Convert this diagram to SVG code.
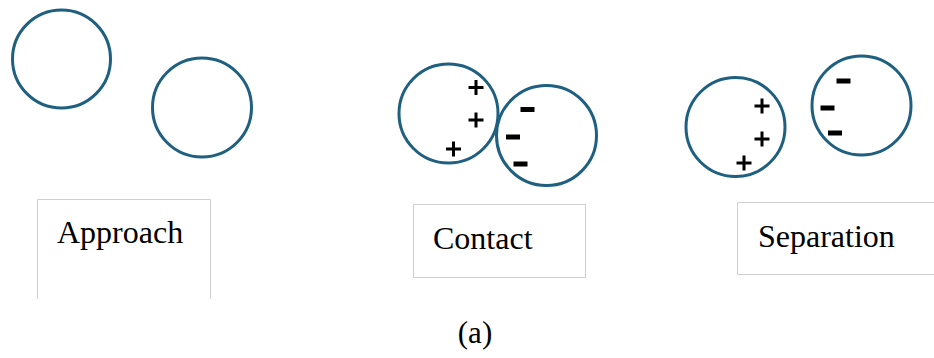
<svg xmlns="http://www.w3.org/2000/svg" width="934" height="358" viewBox="0 0 934 358">
  <style>
    .ball { fill: none; stroke: #1f6080; stroke-width: 3; }
    .box { fill: #ffffff; stroke: #d0d0d0; stroke-width: 1; }
    .label { font-family: "Liberation Serif", "Times New Roman", serif; font-size: 32px; fill: #000000; }
    .caption { font-family: "Liberation Serif", "Times New Roman", serif; font-size: 31px; fill: #000000; }
    .plus { stroke: #000000; stroke-width: 3; fill: none; }
    .minus { fill: #000000; }
  </style>
  <defs>
    <path id="plus" class="plus" d="M -7.5 0 H 7.5 M 0 -7.5 V 7.5"/>
    <rect id="minus" class="minus" x="-7" y="-2.5" width="14" height="5"/>
  </defs>
  <rect width="934" height="358" fill="#ffffff"/>

  <!-- Stage 1: approach -->
  <g id="approach-balls">
    <circle class="ball" cx="61.5" cy="59" r="49"/>
    <circle class="ball" cx="202" cy="107.5" r="49.5"/>
  </g>
  <g id="approach-label">
    <path class="box" d="M 37.5 299 V 199.5 H 210.5 V 299"/>
    <text class="label" x="57" y="243">Approach</text>
  </g>

  <!-- Stage 2: contact -->
  <g id="contact-balls">
    <circle class="ball" cx="448.5" cy="113.5" r="49.5"/>
    <circle class="ball" cx="546.5" cy="135.5" r="50"/>
    <use href="#plus" x="476" y="87.5"/>
    <use href="#plus" x="476" y="120"/>
    <use href="#plus" x="453.5" y="149"/>
    <use href="#minus" x="527.5" y="109.5"/>
    <use href="#minus" x="513" y="137"/>
    <use href="#minus" x="520.5" y="164"/>
  </g>
  <g id="contact-label">
    <rect class="box" x="413.5" y="204.5" width="172" height="73"/>
    <text class="label" x="433" y="249">Contact</text>
  </g>

  <!-- Stage 3: separation -->
  <g id="separation-balls">
    <circle class="ball" cx="735.5" cy="127" r="49.5"/>
    <circle class="ball" cx="861.5" cy="105.5" r="49.5"/>
    <use href="#plus" x="762" y="106"/>
    <use href="#plus" x="762" y="139"/>
    <use href="#plus" x="744" y="163"/>
    <use href="#minus" x="843.5" y="81"/>
    <use href="#minus" x="827.5" y="108"/>
    <use href="#minus" x="835" y="133"/>
  </g>
  <g id="separation-label">
    <path class="box" d="M 940 202.5 H 737.5 V 274.5 H 940"/>
    <text class="label" x="758" y="247">Separation</text>
  </g>

  <g id="connectors"/>

  <text class="caption" x="475" y="343" text-anchor="middle">(a)</text>
</svg>
